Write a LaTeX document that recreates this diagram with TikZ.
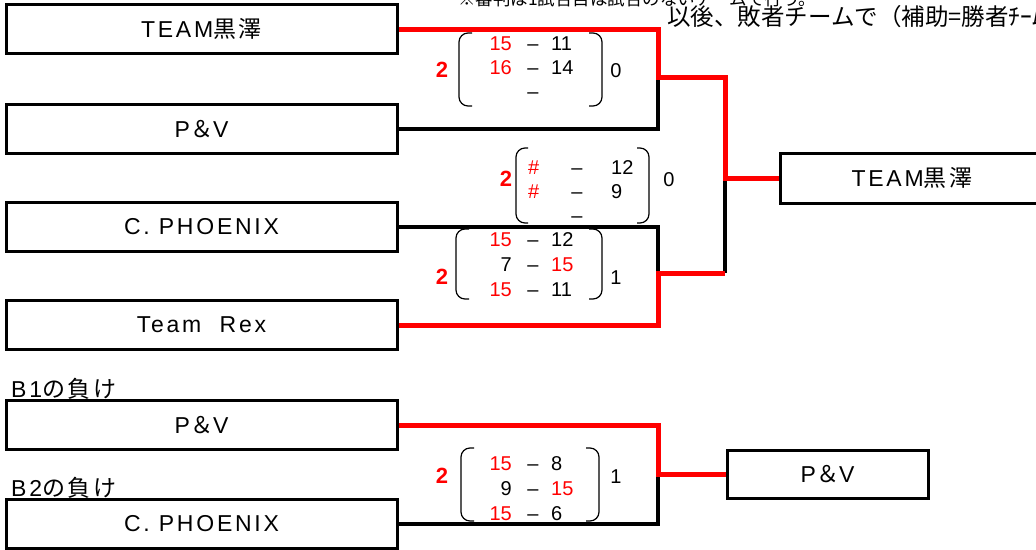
\documentclass[tikz,border=0pt]{standalone}
\usepackage{fontspec}
\setmainfont{Liberation Sans}
\newfontfamily\latinfont[LetterSpace=12]{Liberation Sans}
\newfontfamily\jpfont[LetterSpace=12]{Noto Sans CJK JP}
\newfontfamily\headfont{Noto Sans CJK JP}
\usetikzlibrary{calc}

\tikzset{
  team/.style={draw, line width=3pt, inner sep=0pt, minimum width=391pt,
    minimum height=49pt, font=\latinfont\fontsize{23}{27}\selectfont},
  win/.style={red, line width=5pt},
  lose/.style={black, line width=4pt},
  paren/.style={line width=1.2pt, rounded corners=9pt},
  num/.style={inner sep=0pt, text height=14.3pt, text depth=0pt,
    font=\fontsize{20}{24}\selectfont},
  sets/.style={inner sep=0pt, red, font=\bfseries\fontsize{22}{26}\selectfont},
  note/.style={anchor=base west, inner sep=0pt}
}

\begin{document}
\begin{tikzpicture}[x=1pt,y=-1pt]
	\useasboundingbox (0,0) rectangle (1036,549);
	\clip (0,0) rectangle (1036,549);

	\node[note, font=\headfont\fontsize{17.5}{20}\selectfont] (note1) at (458,5)
	  {※審判は1試合目は試合のないチームで行う。};
	\node[note, font=\headfont\fontsize{23.5}{27}\selectfont] (note2) at (667,25)
	  {以後、敗者チームで（補助=勝者ﾁｰﾑ};

	% teams
	\node[team] (a1) at (201.5,29) {TEAM{\jpfont 黒澤}};
	\node[team] (a2) at (201.5,129) {P{\jpfont ＆}V};
	\node[team] (a3) at (201.5,227) {C. PHOENIX};
	\node[team] (a4) at (201.5,325) {Team\ \ Rex};
	\node[team] (b1) at (201.5,425) {P{\jpfont ＆}V};
	\node[team] (b2) at (201.5,524) {C. PHOENIX};
	\node[team, minimum width=264pt, minimum height=50pt] (w1) at (912,178) {TEAM{\jpfont 黒澤}};
	\node[team, minimum width=201pt, minimum height=48pt] (w2) at (827.5,474) {P{\jpfont ＆}V};

	\node[note, font=\latinfont\fontsize{23}{27}\selectfont] (lab1) at (11,397) {B1{\jpfont の負け}};
	\node[note, font=\latinfont\fontsize{23}{27}\selectfont] (lab2) at (11,496) {B2{\jpfont の負け}};

	% bracket
	\coordinate (m1) at (658,77);
	\coordinate (m2) at (658,273);
	\coordinate (m3) at (658,474);
	\coordinate (f1) at (725,178);

	\draw[lose] (a2.east) -| (m1);
	\draw[lose] (a3.east) -| (m2);
	\draw[lose] (m2 -| f1) -- (f1);
	\draw[lose] (b2.east) -| (m3);
	\draw[win] (a1.east) -| (m1) -| (f1) -- (w1.west);
	\draw[win] (a4.east) -| (m2) -- (m2 -| f1);
	\draw[win] (b1.east) -| (m3) -- (w2.west);

	% scores A
	\draw[paren] (472,33) -- (459,33) -- (459,106) -- (472,106);
	\draw[paren] (589,33) -- (602,33) -- (602,106) -- (589,106);
	\node[sets] (sa) at (442,70) {2};
	\node[num] (la) at (616,70) {0};
	\node[num, red, anchor=east] (a1l) at (512,43) {15};
	\node[num] (a1d) at (533,43) {–};
	\node[num, anchor=west] (a1r) at (551,43) {11};
	\node[num, red, anchor=east] (a2l) at (512,67) {16};
	\node[num] (a2d) at (533,67) {–};
	\node[num, anchor=west] (a2r) at (551,67) {14};
	\node[num] (a3d) at (533,91) {–};

	% scores B
	\draw[paren] (528,148) -- (516,148) -- (516,223) -- (528,223);
	\draw[paren] (637,148) -- (649,148) -- (649,223) -- (637,223);
	\node[sets] (sb) at (506,179) {2};
	\node[num] (lb) at (669,179) {0};
	\node[num, red, anchor=west] (b1l) at (528,167) {\#};
	\node[num] (b1d) at (577,167) {–};
	\node[num, anchor=west] (b1r) at (611,167) {12};
	\node[num, red, anchor=west] (b2l) at (528,191) {\#};
	\node[num] (b2d) at (577,191) {–};
	\node[num, anchor=west] (b2r) at (611,191) {9};
	\node[num] (b3d) at (577,215) {–};

	% scores C
	\draw[paren] (469,229) -- (456,229) -- (456,299) -- (469,299);
	\draw[paren] (589,229) -- (602,229) -- (602,299) -- (589,299);
	\node[sets] (sc) at (442,277) {2};
	\node[num] (lc) at (616,277) {1};
	\node[num, red, anchor=east] (c1l) at (512,239) {15};
	\node[num] (c1d) at (533,239) {–};
	\node[num, anchor=west] (c1r) at (551,239) {12};
	\node[num, anchor=east] (c2l) at (512,264) {7};
	\node[num] (c2d) at (533,264) {–};
	\node[num, red, anchor=west] (c2r) at (551,264) {15};
	\node[num, red, anchor=east] (c3l) at (512,289) {15};
	\node[num] (c3d) at (533,289) {–};
	\node[num, anchor=west] (c3r) at (551,289) {11};

	% scores D
	\draw[paren] (474,448) -- (461,448) -- (461,521) -- (474,521);
	\draw[paren] (586,448) -- (599,448) -- (599,521) -- (586,521);
	\node[sets] (sd) at (442,476) {2};
	\node[num] (ld) at (616,476) {1};
	\node[num, red, anchor=east] (d1l) at (512,463) {15};
	\node[num] (d1d) at (533,463) {–};
	\node[num, anchor=west] (d1r) at (551,463) {8};
	\node[num, anchor=east] (d2l) at (512,488) {9};
	\node[num] (d2d) at (533,488) {–};
	\node[num, red, anchor=west] (d2r) at (551,488) {15};
	\node[num, red, anchor=east] (d3l) at (512,513) {15};
	\node[num] (d3d) at (533,513) {–};
	\node[num, anchor=west] (d3r) at (551,513) {6};
\end{tikzpicture}
\end{document}
